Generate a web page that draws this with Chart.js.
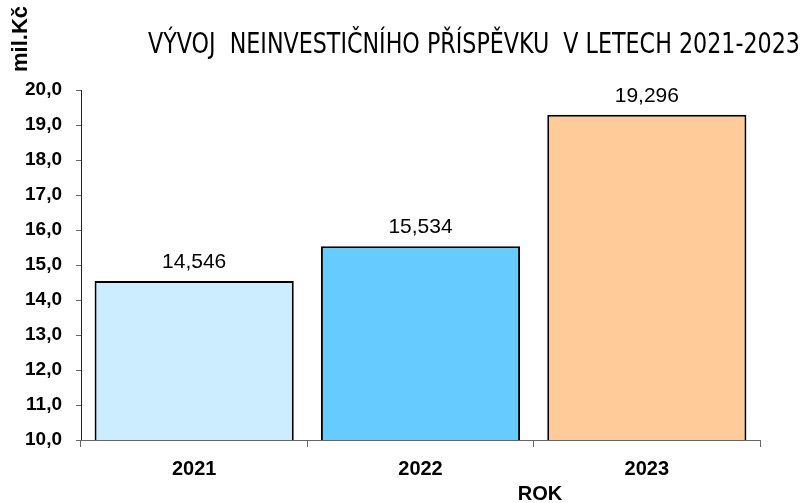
<!DOCTYPE html>
<html>
<head>
<meta charset="utf-8">
<script src="https://cdn.jsdelivr.net/npm/chart.js@4"></script>
<style>
  html, body { margin: 0; padding: 0; background: #fff; }
  #wrap { width: 805px; height: 503px; }
</style>
</head>
<body>
<div id="wrap"><canvas id="chart" width="805" height="503"></canvas></div>
<script>
// Vývoj neinvestičního příspěvku
const roky = ['2021', '2022', '2023'];
const prispevek = [14.546, 15.534, 19.296];
const barvy = ['#CCECFF', '#66CCFF', '#FFCC99'];
const nadpis = 'VÝVOJ  NEINVESTIČNÍHO PŘÍSPĚVKU  V LETECH 2021-2023';
const osaY = 'mil.Kč';
const osaX = 'ROK';

const fmt = (v, d) => v.toFixed(d).replace('.', ',');
const pismo = '"Liberation Sans", Arial, sans-serif';

// popisky nad sloupci + texty mimo graf
const textyPlugin = {
    id: 'texty',
    afterDatasetsDraw(chart) {
        const ctx = chart.ctx;
        const meta = chart.getDatasetMeta(0);
        ctx.save();
        ctx.fillStyle = '#000';
        ctx.font = '21px ' + pismo;
        ctx.textAlign = 'center';
        ctx.textBaseline = 'alphabetic';
        meta.data.forEach((bar, i) => {
            ctx.fillText(fmt(prispevek[i], 3), bar.x, bar.y - 13);
        });

        // nadpis
        ctx.font = '29px "DejaVu Sans Condensed", "DejaVu Sans", sans-serif';
        ctx.textBaseline = 'middle';
        ctx.fillText(nadpis, 474, 45, 652);

        // osa X
        ctx.font = 'bold 20px ' + pismo;
        ctx.fillText(osaX, 540, 494);

        // osa Y (svisle)
        ctx.font = 'bold 22px ' + pismo;
        ctx.translate(21, 39);
        ctx.rotate(-Math.PI / 2);
        ctx.fillText(osaY, 0, 0);
        ctx.restore();
    }
};

new Chart(document.getElementById('chart'), {
    type: 'bar',
    data: {
        labels: roky,
        datasets: [{
            data: prispevek,
            backgroundColor: barvy,
            borderColor: '#000',
            borderWidth: 2,
            borderSkipped: false,
            barPercentage: 0.88,
            categoryPercentage: 1
        }]
    },
    options: {
        responsive: false,
        animation: false,
        layout: { padding: { top: 90, right: 45, left: 0, bottom: 0 } },
        plugins: {
            legend: { display: false },
            tooltip: { enabled: false }
        },
        scales: {
            y: {
                min: 10,
                max: 20,
                afterFit: (s) => { s.width = 81; },
                ticks: {
                    stepSize: 1,
                    color: '#000',
                    padding: 14,
                    font: { family: pismo, size: 19, weight: 'bold' },
                    callback: (v) => fmt(v, 1)
                },
                grid: { drawOnChartArea: false, drawTicks: true, tickLength: 5, color: '#666' },
                border: { display: true, color: '#222', width: 1 }
            },
            x: {
                afterFit: (s) => { s.height = 63; },
                ticks: {
                    color: '#000',
                    padding: 10,
                    font: { family: pismo, size: 20, weight: 'bold' }
                },
                grid: { drawOnChartArea: false, drawTicks: true, tickLength: 7, offset: true, color: '#666' },
                border: { display: true, color: '#666', width: 1 }
            }
        }
    },
    plugins: [textyPlugin]
});
</script>
</body>
</html>
